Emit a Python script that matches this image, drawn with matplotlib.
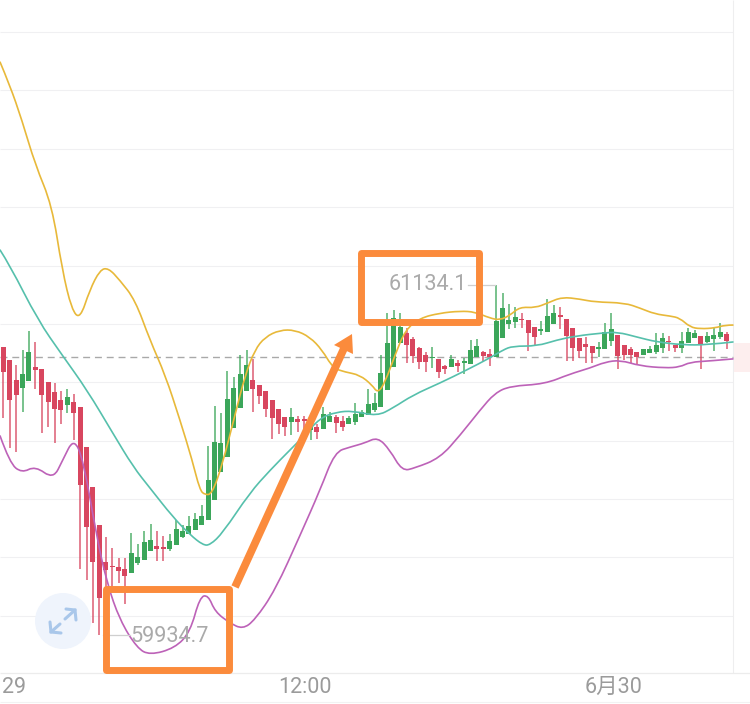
import matplotlib
matplotlib.use("Agg")
import matplotlib.pyplot as plt
from matplotlib.patches import Circle, Rectangle, Polygon, PathPatch
from matplotlib.path import Path
import numpy as np

plt.rcParams['font.family'] = ['Roboto', 'Noto Sans CJK SC', 'DejaVu Sans']

# OHLC of each candle (price), one candle per index
opens = [60921,60876,60808,60781,60805,60852,60845,60801,60767,60739,60722,60732,60715,60578,60441,60311,
         60184,60170,60167,60160,60146,60181,60191,60222,60239,60235,60229,60242,60270,60280,60294,60311,
         60328,60397,60492,60544,60643,60712,60770,60808,60791,60770,60739,60708,60681,60664,60674,60674,
         60636,60647,60640,60664,60681,60667,60657,60664,60681,60688,60705,60715,60773,60852,60935,60969,
         60948,60917,60893,60883,60880,60856,60852,60866,60866,60863,60887,60904,60897,60887,60952,61000,
         61007,61017,61013,60989,60976,60972,61000,61027,61017,60986,60952,60931,60924,60914,60914,60941,
         60962,60928,60914,60904,60893,60900,60904,60917,60941,60928,60917,60935,60952,60959,60938,60948,
         60955,60965]
closes = [60835,60739,60756,60828,60904,60842,60756,60732,60708,60705,60749,60694,60448,60304,60184,60061,
          60157,60167,60153,60136,60215,60201,60253,60259,60229,60229,60256,60297,60290,60307,60331,60342,
          60465,60595,60592,60743,60781,60828,60859,60777,60753,60708,60678,60657,60647,60681,60664,60667,
          60647,60630,60691,60684,60660,60647,60678,60691,60698,60725,60729,60832,60935,61020,60989,60928,
          60890,60869,60869,60887,60835,60845,60880,60856,60873,60911,60924,60890,60887,61010,61055,61013,
          61024,61013,60969,60955,60979,61027,61037,61024,60959,60917,60907,60921,60900,60921,60972,60983,
          60890,60893,60893,60887,60914,60914,60928,60952,60938,60917,60941,60972,60969,60928,60959,60962,
          60972,60941]
highs = [60921,60876,60859,60911,60976,60938,60845,60801,60798,60770,60777,60760,60715,60578,60441,60311,
         60270,60232,60198,60198,60284,60246,60290,60314,60290,60273,60280,60328,60311,60342,60352,60379,
         60582,60719,60694,60839,60818,60893,60911,60880,60791,60770,60739,60708,60681,60712,60684,60684,
         60667,60657,60715,60698,60688,60684,60684,60729,60705,60777,60763,60893,61037,61048,61037,60986,
         60955,60921,60904,60921,60880,60859,60893,60876,60883,60945,60948,60907,60914,61134.1,61106,61068,
         61058,61037,61013,60989,61010,61085,61065,61058,61017,60986,60952,60955,60924,60938,61003,61037,
         60962,60928,60921,60904,60914,60924,60969,60969,60959,60928,60972,60986,60979,60959,60972,60989,
         61003,60972]
lows = [60678,60575,60561,60698,60805,60777,60626,60647,60592,60657,60694,60602,60160,60122,59975,59934.7,
        60088,60088,60112,60040,60146,60174,60191,60222,60188,60188,60222,60242,60266,60280,60294,60311,
        60328,60397,60492,60544,60643,60712,60770,60698,60725,60681,60606,60623,60616,60619,60630,60612,
        60602,60606,60640,60664,60626,60633,60657,60654,60681,60688,60698,60715,60773,60852,60935,60866,
        60866,60845,60835,60849,60815,60828,60852,60835,60828,60863,60887,60869,60856,60887,60952,60983,
        60986,60986,60907,60924,60962,60972,61000,60983,60873,60873,60883,60866,60866,60887,60914,60924,
        60845,60876,60866,60859,60893,60900,60897,60900,60907,60904,60900,60935,60952,60845,60935,60907,
        60948,60914]

# Band lines (candle index, price)
upper_idx = [-0.5,1,2.9,5,7.6,9.2,10.7,12,13.5,15.1,16.4,18.2,20.6,22.9,25.3,27.6,29.5,30.7,31.5,32.6,34.2,36.2,
             37.8,39.3,40.9,43.2,45.6,47.9,49.8,51.5,53.4,55.7,57.6,58.5,59.6,61.2,62.8,65.1,68.2,71.4,73.7,76,
             77.6,79.2,80.7,83.1,85.1,87.3,90.1,92.4,97.1,99.5,101.8,104.2,105.7,107.3,108.9,111.2,112.8,114]
upper = [61897,61819,61699,61545,61407,61185,61048,61017,61116,61185,61192,61150,61082,60945,60825,60671,60534,
         60431,60414,60417,60516,60688,60825,60911,60955,60979,60979,60955,60911,60849,60835,60825,60791,60763,
         60797,60893,60979,61020,61037,61044,61041,61020,61013,61030,61058,61055,61072,61092,61085,61075,61072,
         61054,61034,61027,61020,60989,60983,60986,60996,60996]
middle_idx = [-0.5,1,5.4,9.2,13.1,17.1,20.3,22.9,26.5,29.2,31.2,32.3,34.3,38.5,41.7,44.8,46.8,49.5,52.1,54.6,58.4,
              60.9,64,68.2,72.4,76,78.1,79.6,83.4,86.5,89.6,93.7,96,99,102.1,106.2,109.9,114]
middle = [61253,61202,61013,60893,60773,60626,60510,60438,60338,60277,60242,60242,60284,60421,60499,60568,60612,
          60678,60698,60702,60684,60712,60756,60797,60842,60883,60911,60924,60924,60945,60959,60969,60972,60955,
          60938,60928,60928,60938]
lower_idx = [-0.5,1,2.9,5,7.8,9.3,11,12.5,14.6,16.2,18.2,20.9,22.9,26.8,29.2,30.7,32,33.1,35.4,37.4,39.3,42.5,46.4,
             49.5,51.8,54.2,56.5,58.5,60.4,62.3,64.3,68.2,71.4,74.5,76.8,79.2,84.6,88.5,91.7,94,96.4,99.5,103.4,
             105.7,107.3,110.4,114]
lower = [60616,60523,60489,60513,60468,60534,60609,60534,60270,60112,59985,59889,59865,59889,59944,60064,60071,
         60013,59975,59954,59985,60088,60277,60431,60561,60578,60592,60612,60568,60496,60506,60540,60619,60705,
         60763,60787,60794,60828,60849,60869,60876,60856,60849,60852,60869,60873,60880]

last_price = 60886
grid_prices = [62000,61800,61600,61400,61200,61000,60800,60600,60400,60200,60000]
tick_idx = [1.5, 47.1, 95.4]
tick_labels = ['29', '12:00', '6月30']
high_label = '61134.1'
low_label = '59934.7'

RED = '#d8465f'
GREEN = '#3ba65a'
ORANGE = '#fb8b3c'
LABEL = '#aaaaaa'


def smooth_band(axis, xs, ys, color):
    """Stroke a band as a quadratic curve with the read points as its controls."""
    pts = np.column_stack([xs, ys])
    verts = [pts[0]]
    codes = [Path.MOVETO]
    for i in range(1, len(pts) - 1):
        end = pts[i + 1] if i == len(pts) - 2 else (pts[i] + pts[i + 1]) / 2
        verts += [pts[i], end]
        codes += [Path.CURVE3, Path.CURVE3]
    axis.add_patch(PathPatch(Path(verts, codes), fill=False, ec=color, lw=1.2,
                             capstyle='round', joinstyle='round', zorder=4))


fig = plt.figure(figsize=(7.5, 7.04), dpi=100, facecolor='white')
ax = fig.add_axes([0, 0, 1, 1])
ax.set_xlim(-0.516, 116.67)
ax.set_ylim(59697.4, 62110)
ax.axis('off')

ax.hlines(grid_prices, -0.516, 114.05, color='#f0f0f2', lw=0.8, zorder=1)
ax.vlines(114.05, 59805, 62110, color='#eeeeef', lw=0.8, zorder=1)
ax.hlines(59805, -0.516, 116.67, color='#ececec', lw=0.9, zorder=1)
ax.hlines(59703, -0.516, 116.67, color='#f2f2f2', lw=0.8, zorder=1)

# current-price marker and dashed line
ax.add_patch(Rectangle((114.2, 60835), 2.6, 98, color='#fdeeee', lw=0, zorder=1))
ax.hlines(last_price, -0.516, 114.05, color='#a9a9a9', lw=1.0, linestyles=(0, (5, 3.5)), zorder=2)

idx = np.arange(len(opens))
o, c, h, l = map(np.array, (opens, closes, highs, lows))
up = c >= o
colors = np.where(up, GREEN, RED)
ax.vlines(idx, l, h, colors=colors, lw=1.1, alpha=0.88, zorder=3)
ax.bar(idx, np.maximum(np.abs(c - o), 5), bottom=np.minimum(o, c), width=0.8, color=colors, lw=0, zorder=3)

smooth_band(ax, upper_idx, upper, '#e8b93a')
smooth_band(ax, middle_idx, middle, '#56c0ac')
smooth_band(ax, lower_idx, lower, '#bd62b8')

for x, t in zip(tick_idx, tick_labels):
    ax.text(x + (0.2 if t == '29' else 0), 59755, t, ha='center', va='center', fontsize=15.5, color='#9b9b9b', zorder=5)

# overlay in picture pixels for the hand-drawn markup and the zoom button
ov = fig.add_axes([0, 0, 1, 1], zorder=10)
ov.set_xlim(0, 750)
ov.set_ylim(704, 0)
ov.axis('off')
ov.patch.set_alpha(0)

ov.add_patch(Circle((63, 621), 28, color='#eff4fc', lw=0, zorder=1))
btn = dict(color='#a9c7ea', lw=2.2, solid_capstyle='round', solid_joinstyle='miter', zorder=2)
ov.plot([65, 75], [619, 610], **btn)
ov.plot([66, 75, 76], [609, 610, 620], **btn)
ov.plot([51, 60], [632, 624], **btn)
ov.plot([50, 51, 61], [622, 632, 633], **btn)

ov.plot([468, 495], [285, 285], color='#cfcfcf', lw=0.9, zorder=2)
ov.plot([103, 130], [635, 635], color='#cfcfcf', lw=0.9, zorder=2)
ov.text(428, 285, high_label, ha='center', va='center', fontsize=15.6, color=LABEL, zorder=2)
ov.text(170, 636, low_label, ha='center', va='center', fontsize=15.6, color=LABEL, zorder=2)

box = dict(fill=False, ec=ORANGE, lw=5, joinstyle='round', zorder=5)
ov.add_patch(Rectangle((361, 253), 118, 69, **box))
ov.add_patch(Rectangle((106, 589), 123, 81, **box))
ov.plot([235, 346], [587, 344], color=ORANGE, lw=5.6, solid_capstyle='butt', zorder=5)
ov.add_patch(Polygon([(352, 334), (334, 345), (353, 354)], closed=True, color=ORANGE, lw=0, zorder=5))

fig.savefig('out.png', dpi=100, facecolor='white')
